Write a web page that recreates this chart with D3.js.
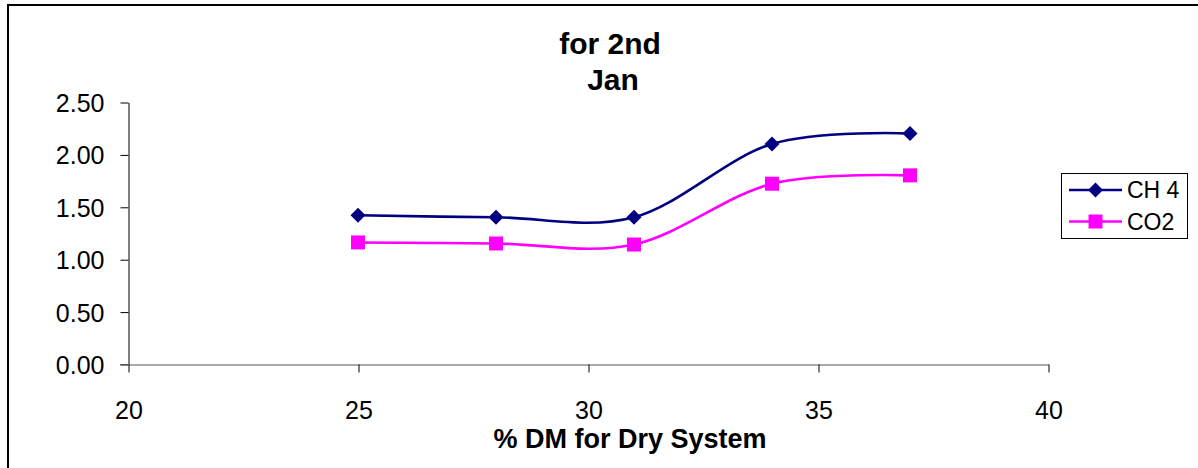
<!DOCTYPE html>
<html>
<head>
<meta charset="utf-8">
<script src="https://cdn.jsdelivr.net/npm/d3@7"></script>
<style>
  html, body { margin: 0; padding: 0; background: #fff; }
  svg { display: block; font-family: "Liberation Sans", Arial, sans-serif; }
</style>
</head>
<body>
<svg id="chart" width="1198" height="468"></svg>
<script>
const xValues = [25, 28, 31, 34, 37];
const ch4 = [1.42, 1.40, 1.40, 2.10, 2.20];
const co2 = [1.16, 1.15, 1.14, 1.72, 1.80];
const xTicks = [20, 25, 30, 35, 40];
const yTicks = [0, 0.5, 1.0, 1.5, 2.0, 2.5];
const seriesNames = ["CH 4", "CO2"];
const titleLines = ["for 2nd", "Jan"];
const xTitle = "% DM for Dry System";

const FONT = "Liberation Sans, Arial, sans-serif";
const svg = d3.select("#chart");

// outer frame (extends beyond visible area)
svg.append("rect").attr("x", 8).attr("y", 5).attr("width", 1300).attr("height", 600)
  .attr("fill", "none").attr("stroke", "#000").attr("stroke-width", 2);

const x = d3.scaleLinear().domain([20, 40]).range([128, 1048]);
const y = d3.scaleLinear().domain([0, 2.5]).range([364, 102]);

// axes
const yAxis = d3.axisLeft(y).tickValues(yTicks).tickFormat(d3.format(".2f")).tickSize(8).tickSizeOuter(0);
const gy = svg.append("g").attr("transform", "translate(128.5,0.5)").call(yAxis);
gy.attr("font-size", null).attr("font-family", null);
gy.select(".domain").attr("stroke", "#000");
gy.selectAll(".tick line").attr("stroke", "#000");
gy.selectAll(".tick text").style("font-size", "25px").style("font-family", FONT).attr("fill", "#000")
  .attr("x", -24).attr("dy", "0.36em");

const xAxis = d3.axisBottom(x).tickValues(xTicks).tickFormat(d3.format("d")).tickSize(8).tickSizeOuter(0);
const gx = svg.append("g").attr("transform", "translate(0.5,364.5)").call(xAxis);
gx.attr("font-size", null).attr("font-family", null);
gx.select(".domain").attr("stroke", "#555");
gx.selectAll(".tick line").attr("stroke", "#000");
gx.selectAll(".tick text").style("font-size", "25px").style("font-family", FONT).attr("fill", "#000")
  .attr("y", 45).attr("dy", "0.36em");
svg.append("line").attr("x1", 120).attr("x2", 129).attr("y1", 364.5).attr("y2", 364.5).attr("stroke", "#555");

// titles
svg.append("text").attr("x", 610).attr("y", 54).attr("text-anchor", "middle")
  .style("font-size", "30px").style("font-weight", "bold").text(titleLines[0]);
svg.append("text").attr("x", 613).attr("y", 90).attr("text-anchor", "middle")
  .style("font-size", "30px").style("font-weight", "bold").text(titleLines[1]);
svg.append("text").attr("x", 630).attr("y", 448).attr("text-anchor", "middle")
  .style("font-size", "27px").style("font-weight", "bold").text(xTitle);

const line = d3.line().x(d => x(d[0])).y(d => y(d[1])).curve(d3.curveCardinal.tension(0));

const series = [
  { name: seriesNames[0], vals: ch4, color: "#000080", shape: "diamond" },
  { name: seriesNames[1], vals: co2, color: "#FF00FF", shape: "square" }
];

function marker(g, shape, color, cx, cy) {
  if (shape === "diamond") {
    g.append("path").attr("d", `M${cx},${cy-7.5}L${cx+7.5},${cy}L${cx},${cy+7.5}L${cx-7.5},${cy}Z`)
      .attr("fill", color);
  } else {
    g.append("rect").attr("x", cx - 7).attr("y", cy - 7).attr("width", 14).attr("height", 14)
      .attr("fill", color);
  }
}

series.forEach(s => {
  const pts = xValues.map((xv, i) => [xv, s.vals[i]]);
  svg.append("path").datum(pts).attr("d", line).attr("fill", "none")
    .attr("stroke", s.color).attr("stroke-width", 2.6);
  const g = svg.append("g");
  pts.forEach(p => marker(g, s.shape, s.color, x(p[0]), y(p[1])));
});

// legend
const leg = svg.append("g");
leg.append("rect").attr("x", 1061.5).attr("y", 173.5).attr("width", 126).attr("height", 65)
  .attr("fill", "#fff").attr("stroke", "#000").attr("stroke-width", 1);
series.forEach((s, i) => {
  const ly = 190 + i * 31.5;
  leg.append("line").attr("x1", 1069).attr("x2", 1122).attr("y1", ly).attr("y2", ly)
    .attr("stroke", s.color).attr("stroke-width", 2.6);
  marker(leg, s.shape, s.color, 1095.5, ly);
  leg.append("text").attr("x", 1127).attr("y", ly).attr("dy", "0.36em").style("font-size", "23px").text(s.name);
});
</script>
</body>
</html>
